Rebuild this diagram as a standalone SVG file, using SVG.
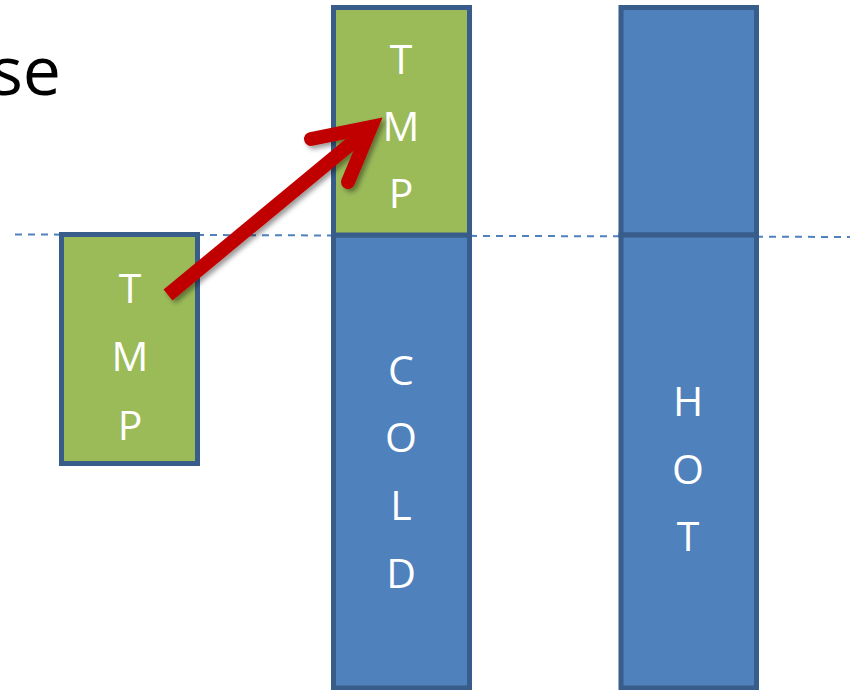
<svg xmlns="http://www.w3.org/2000/svg" width="855" height="690" viewBox="0 0 855 690">
<style>
.g{fill:#9BBB59;stroke:#385D8A;stroke-width:5}
.b{fill:#4F81BD;stroke:#385D8A;stroke-width:5}
.t{font-family:"Open Sans","Liberation Sans",sans-serif;font-size:41px;fill:#fff;text-anchor:middle}
</style>
<defs>
<filter id="sh" x="-20%" y="-20%" width="140%" height="140%">
<feDropShadow dx="3" dy="3" stdDeviation="2.5" flood-color="#000" flood-opacity="0.4"/>
</filter>
</defs>
<text x="61" y="95" font-family="'Open Sans','Liberation Sans',sans-serif" font-size="68" text-anchor="end" fill="#000">se</text>
<line x1="15" y1="234.5" x2="850" y2="237" stroke="#4F81BD" stroke-width="2" stroke-dasharray="7 6"/>
<g id="tmp-left">
<rect class="g" x="61.5" y="234.5" width="136" height="229"/>
<text class="t" x="130" y="303">T</text>
<text class="t" x="130" y="371">M</text>
<text class="t" x="130" y="440">P</text>
</g>
<g id="cold">
<rect class="b" x="333.5" y="235" width="136" height="453"/>
<text class="t" x="401" y="385">C</text>
<text class="t" x="401" y="452">O</text>
<text class="t" x="401" y="520">L</text>
<text class="t" x="401" y="588">D</text>
</g>
<g id="tmp-top">
<rect class="g" x="333.5" y="7.5" width="136" height="227.5"/>
<text class="t" x="401" y="74">T</text>
<text class="t" x="401" y="141">M</text>
<text class="t" x="401" y="208">P</text>
</g>
<g id="hot">
<rect class="b" x="621" y="7.5" width="135.5" height="227.5"/>
<rect class="b" x="621" y="235" width="135.5" height="453"/>
<text class="t" x="688" y="416">H</text>
<text class="t" x="688" y="484">O</text>
<text class="t" x="688" y="551">T</text>
</g>
<g id="connectors" filter="url(#sh)">
<line x1="168" y1="295" x2="370" y2="128" stroke="#C00000" stroke-width="14"/>
<polyline points="311,139 371,127 348,182" fill="none" stroke="#C00000" stroke-width="14" stroke-linecap="round" stroke-linejoin="miter"/>
</g>
</svg>
